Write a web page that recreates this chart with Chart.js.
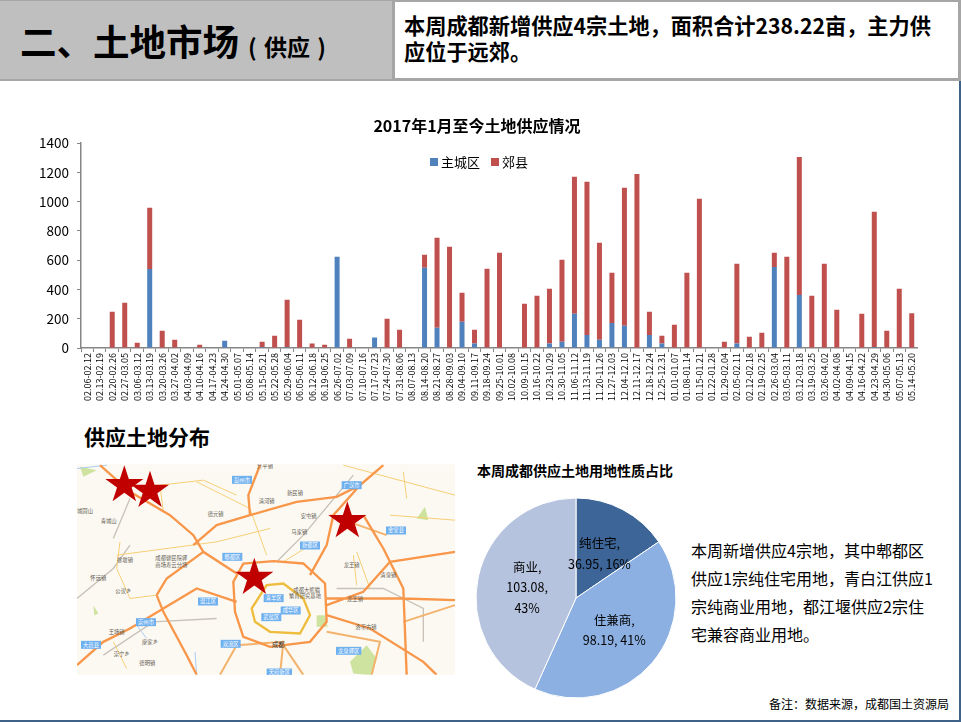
<!DOCTYPE html>
<html lang="zh">
<head>
<meta charset="utf-8">
<title>土地市场（供应）</title>
<script src="https://cdn.jsdelivr.net/npm/chart.js@4/dist/chart.umd.min.js"></script>
<style>
  html, body { margin: 0; padding: 0; background: #fff; }
  body { position: relative; width: 961px; height: 722px; overflow: hidden; font-family: "Noto Sans CJK SC", "Liberation Sans", sans-serif; color: #000; }
  .abs { position: absolute; }
  #edge-right { left: 959px; top: 81px; width: 2px; height: 641px; background: #3f6288; }
  #edge-bottom { left: 0; top: 720px; width: 961px; height: 2px; background: #3f6288; }
  #head-left { left: 0; top: 0; width: 393px; height: 78px; background: #bfbfbf; border-top: 1px solid #a6a6a6; border-bottom: 2px solid #a6a6a6; }
  #head-title { left: 20px; top: 14px; font-size: 36.5px; line-height: 54px; font-weight: 700; white-space: nowrap; }
  #head-title span { font-size: 23px; font-weight: 700; margin-left: 9px; word-spacing: 2px; }
  #head-right { left: 392px; top: 0; width: 569px; height: 81px; box-sizing: border-box; border: 3px solid #a6a6a6; border-top-width: 2px; background: #fff; }
  #head-text { left: 404px; top: 12px; width: 540px; font-size: 21.2px; line-height: 26px; font-weight: 700; }
  #legend { left: 430px; top: 153px; font-size: 13px; line-height: 18px; display: flex; white-space: nowrap; }
  #legend i { display: inline-block; width: 8px; height: 8px; margin: 5px 3px 0 0; }
  #legend span { display: flex; margin-right: 11px; }
  #map-title { left: 84px; top: 421px; font-size: 21px; line-height: 30px; font-weight: 700; }
  #map { left: 77px; top: 464px; width: 378px; height: 211px; }
  #pie-title { left: 477px; top: 461px; font-size: 14px; line-height: 18px; font-weight: 700; }
  #note { left: 691px; top: 536px; font-size: 16px; line-height: 28px; white-space: nowrap; }
  #source { left: 769px; top: 695px; font-size: 12px; line-height: 17px; }
</style>
</head>
<body>
<div class="abs" id="edge-right"></div>
<div class="abs" id="edge-bottom"></div>
<div class="abs" id="head-left"></div>
<div class="abs" id="head-title">二、土地市场<span>( 供应 )</span></div>
<div class="abs" id="head-right"></div>
<div class="abs" id="head-text">本周成都新增供应4宗土地，面积合计238.22亩，主力供应位于远郊。</div>

<canvas class="abs" id="barChart" style="left:36px;top:110px"></canvas>
<div class="abs" id="legend"><span><i style="background:#4f81bd"></i>主城区</span><span><i style="background:#c0504d"></i>郊县</span></div>

<div class="abs" id="map-title">供应土地分布</div>
<svg class="abs" id="map" viewBox="21 27 1134 632">
  <defs>
    <filter id="soft"><feGaussianBlur stdDeviation="1.5"/></filter>
    <clipPath id="map-clip"><rect x="21" y="27" width="1134" height="632"/></clipPath>
  </defs>
  <rect x="21" y="27" width="1134" height="632" fill="#fcf9f2"/>
  <g filter="url(#soft)" clip-path="url(#map-clip)">
    <path d="M740 480l25 0l8 35l-33 0zM890 570l30 40l-15 50l-55-5l-10-35zM30 35l50 10l-40 20zM1040 190l25-35l10 40zM70 450l15 25l-12 5z" fill="#cfe3a0"/>
    <path d="M375 590l5 69M200 510l30 40M21 40l90-10" fill="none" stroke="#a9cdf2" stroke-width="3"/>
    <path d="M130 250L180 130M21 430L130 340L180 270M100 600L250 500L440 490M620 320L700 240L850 60M800 400L940 400L1060 460L1060 560" fill="none" stroke="#c8c2b8" stroke-width="4"/>
    <path d="M140 300L440 260L600 220M380 80L540 160L590 300M860 290L900 400M130 560L170 640M820 30L1155 120M150 260L140 340L180 430L260 420M280 170L270 90L400 75L500 120M850 300L860 390M960 180L1155 195M1010 130L1000 50M640 320L720 270" fill="none" stroke="#f6cf75" stroke-width="3"/>
    <path d="M770 530L930 560L905 659M450 659L500 570L640 560L630 659M640 570L700 659M1000 500L1155 450M780 180L950 240" fill="none" stroke="#f4b36c" stroke-width="6"/>
    <path d="M90 30L180 110L300 180L370 240L400 290L500 355M370 270L440 210L540 180L680 140L800 125L870 90L940 30M540 180L535 120L570 30M720 360L770 270L790 180L870 90M260 420L290 370L400 290M260 420L280 470L350 600L380 659M500 440L380 400L280 460L180 520L100 560L21 630M880 180L940 280L1000 400L1010 659M770 450L880 410L960 320L1155 290M770 430L1000 430L1155 435M770 480L900 520L1060 620L1100 659" fill="none" stroke="#f8964a" stroke-width="7"/>
    <path d="M490 380L520 325L610 318L700 325L765 385L770 500L720 560L600 575L520 545L495 470Z" fill="none" stroke="#f8964a" stroke-width="7"/>
    <path d="M545 460L590 390L640 385L700 430L720 480L690 535L600 530L555 500Z" fill="none" stroke="#eebd3e" stroke-width="7"/>
  </g>
  <g font-family="Noto Sans CJK SC" font-size="16" fill="#fff" text-anchor="middle">
    <g id="map-badges"></g>
  </g>
  <g font-family="Noto Sans CJK SC" font-size="16" fill="#5f5b52" text-anchor="middle">
    <text x="585" y="40">升平镇</text><text x="590" y="145">清河镇</text><text x="675" y="120">新民镇</text>
    <text x="437" y="182">德元镇</text><text x="716" y="188">安屯镇</text><text x="688" y="238">马家镇</text>
    <text x="45" y="173">城固山</text><text x="116" y="204">青城山</text><text x="304" y="314">成都健民院驿</text><text x="304" y="336">商场寿云分场</text>
    <text x="165" y="320">徐堰镇</text><text x="85" y="375">怀远镇</text><text x="160" y="415">公议乡</text>
    <text x="845" y="335">龙王镇</text><text x="955" y="366">清泉镇</text><text x="855" y="438">龙王镇</text>
    <text x="888" y="523">洛带古镇</text><text x="140" y="538">王场镇</text><text x="240" y="568">廖家乡</text>
    <text x="155" y="602">崇宁乡</text><text x="232" y="630">德明镇</text><text x="710" y="410">成都大熊猫</text><text x="705" y="428">繁育研究基地</text>
  </g>
  <text x="625" y="577" font-family="Noto Sans CJK SC" font-size="19" fill="#333" text-anchor="middle">成都</text>
  <g id="map-stars" fill="#c00000"></g>
</svg>

<div class="abs" id="pie-title">本周成都供应土地用地性质占比</div>
<canvas class="abs" id="pieChart" style="left:466px;top:488px"></canvas>
<div class="abs" id="note">本周新增供应4宗地，其中郫都区<br>供应1宗纯住宅用地，青白江供应1<br>宗纯商业用地，都江堰供应2宗住<br>宅兼容商业用地。</div>
<div class="abs" id="source">备注：数据来源，成都国土资源局</div>

<script>
// weekly periods, Feb 2017 to May 2018
const weeks = ['02.06-02.12','02.13-02.19','02.20-02.26','02.27-03.05','03.06-03.12','03.13-03.19','03.20-03.26','03.27-04.02','04.03-04.09','04.10-04.16','04.17-04.23','04.24-04.30','05.01-05.07','05.08-05.14','05.15-05.21','05.22-05.28','05.29-06.04','06.05-06.11','06.12-06.18','06.19-06.25','06.26-07.02','07.03-07.09','07.10-07.16','07.17-07.23','07.24-07.30','07.31-08.06','08.07-08.13','08.14-08.20','08.21-08.27','08.28-09.03','09.04-09.10','09.11-09.17','09.18-09.24','09.25-10.01','10.02-10.08','10.09-10.15','10.16-10.22','10.23-10.29','10.30-11.05','11.06-11.12','11.13-11.19','11.20-11.26','11.27-12.03','12.04-12.10','12.11-12.17','12.18-12.24','12.25-12.31','01.01-01.07','01.08-01.14','01.15-01.21','01.22-01.28','01.29-02.04','02.05-02.11','02.12-02.18','02.19-02.25','02.26-03.04','03.05-03.11','03.12-03.18','03.19-03.25','03.26-04.02','04.02-04.08','04.09-04.15','04.16-04.22','04.23-04.29','04.30-05.06','05.07-05.13','05.14-05.20'];

const cityArea = [0,0,0,0,0,540,0,0,0,0,0,50,0,0,6,0,6,0,0,0,624,0,0,71,0,0,0,549,139,0,180,30,0,0,0,0,0,30,43,234,89,57,171,152,0,89,30,0,0,0,0,0,30,0,0,553,0,362,0,0,0,0,0,6,0,0,0];
const suburbArea = [0,0,248,310,36,418,118,57,0,23,0,0,0,0,37,84,324,193,30,23,0,64,0,0,200,125,0,88,614,692,198,95,542,651,0,303,357,375,560,936,1047,662,343,943,1190,159,54,159,514,1020,0,43,546,77,105,98,624,944,357,576,262,0,234,925,118,405,238];

const pieNames = ['纯住宅','住兼商','商业'];
const pieValues = [36.95, 98.19, 103.08];
const pieColors = ['#3d6597','#8cb0e2','#b6c3de'];
const pieLines = [['纯住宅,','36.95, 16%'],['住兼商,','98.19, 41%'],['商业,','103.08,','43%']];

const mapBadges = [['郫都区',487,305,60],['彭州市',516,74,60],['广汉市',845,90,60],['新都区',720,271,60],['金堂县',978,226,60],['温江区',414,439,60],['青羊区',611,429,60],['成华区',662,466,60],['武侯区',604,486,60],['崇州市',228,501,60],['大邑县',63,569,60],['双流区',482,566,60],['龙泉驿区',836,587,76],['天府新区',628,652,76]];
const starCenters = [[163,90],[240,107],[832,198],[553,368]];

Chart.defaults.font.family = '"Noto Sans CJK SC", "Liberation Sans", sans-serif';
Chart.defaults.color = '#000';

function initBarChart() {
  const canvas = document.getElementById('barChart');
  canvas.width = 882;
  canvas.height = 300;
  new Chart(canvas, {
    type: 'bar',
    data: {
      labels: weeks,
      datasets: [
        { label: '主城区', data: cityArea, backgroundColor: '#4f81bd', stack: 'a', barPercentage: 0.4, categoryPercentage: 1 },
        { label: '郊县', data: suburbArea, backgroundColor: '#c0504d', stack: 'a', barPercentage: 0.4, categoryPercentage: 1 }
      ]
    },
    options: {
      responsive: false,
      animation: false,
      plugins: {
        legend: { display: false },
        tooltip: { enabled: false },
        title: {
          display: true,
          text: '2017年1月至今土地供应情况',
          font: { size: 16, weight: 'bold' },
          color: '#000',
          padding: { top: 6, bottom: 8 }
        }
      },
      scales: {
        x: {
          stacked: true,
          grid: { drawOnChartArea: false, color: '#868686', tickLength: 4 },
          border: { color: '#868686', width: 1.5 },
          ticks: { autoSkip: false, maxRotation: 90, minRotation: 90, padding: 1, font: { size: 9 }, color: '#000' },
          afterFit: s => { s.height = 62; s.paddingLeft = 0; s.paddingRight = 0; }
        },
        y: {
          stacked: true,
          min: 0, max: 1400,
          grid: { drawOnChartArea: false, color: '#868686', tickLength: 4 },
          border: { color: '#868686', width: 1.5 },
          ticks: { stepSize: 200, font: { size: 13.5 }, color: '#000', padding: 8, callback: v => String(v) },
          afterFit: s => { s.width = 45; }
        }
      }
    }
  });
}

// slice labels sit at each arc's centre point
const pieLabelPlugin = {
  id: 'pieLabels',
  afterDatasetsDraw(chart) {
    const ctx = chart.ctx;
    ctx.save();
    ctx.font = '12.5px "Noto Sans CJK SC", sans-serif';
    ctx.fillStyle = '#000';
    ctx.textAlign = 'center';
    ctx.textBaseline = 'middle';
    chart.getDatasetMeta(0).data.forEach((arc, i) => {
      const c = arc.getCenterPoint();
      const lines = pieLines[i];
      lines.forEach((t, j) => ctx.fillText(t, c.x, c.y + (j - (lines.length - 1) / 2) * 20.5));
    });
    ctx.restore();
  }
};

function initPieChart() {
  const canvas = document.getElementById('pieChart');
  canvas.width = 220;
  canvas.height = 220;
  new Chart(canvas, {
    type: 'pie',
    data: {
      labels: pieNames,
      datasets: [{ data: pieValues, backgroundColor: pieColors, borderColor: '#fff', borderWidth: 1, radius: 100 }]
    },
    options: {
      responsive: false,
      animation: false,
      plugins: { legend: { display: false }, tooltip: { enabled: false } }
    },
    plugins: [pieLabelPlugin]
  });
}

// map decoration: district badges and the four red stars
function drawMapMarks() {
  const ns = 'http://www.w3.org/2000/svg';
  const badges = document.getElementById('map-badges');
  mapBadges.forEach(([name, x, y, w]) => {
    const r = document.createElementNS(ns, 'rect');
    r.setAttribute('x', x - w / 2); r.setAttribute('y', y - 12);
    r.setAttribute('width', w); r.setAttribute('height', 24);
    r.setAttribute('fill', '#6fb0ef');
    badges.appendChild(r);
    const t = document.createElementNS(ns, 'text');
    t.setAttribute('x', x); t.setAttribute('y', y + 6);
    t.textContent = name;
    badges.appendChild(t);
  });
  const stars = document.getElementById('map-stars');
  starCenters.forEach(([cx, cy]) => {
    const pts = [];
    for (let i = 0; i < 10; i++) {
      const r = i % 2 ? 23 : 60;
      const a = -Math.PI / 2 + i * Math.PI / 5;
      pts.push((cx + r * Math.cos(a)).toFixed(1) + ',' + (cy + r * Math.sin(a)).toFixed(1));
    }
    const p = document.createElementNS(ns, 'polygon');
    p.setAttribute('points', pts.join(' '));
    stars.appendChild(p);
  });
}

initBarChart();
initPieChart();
drawMapMarks();
</script>
</body>
</html>
